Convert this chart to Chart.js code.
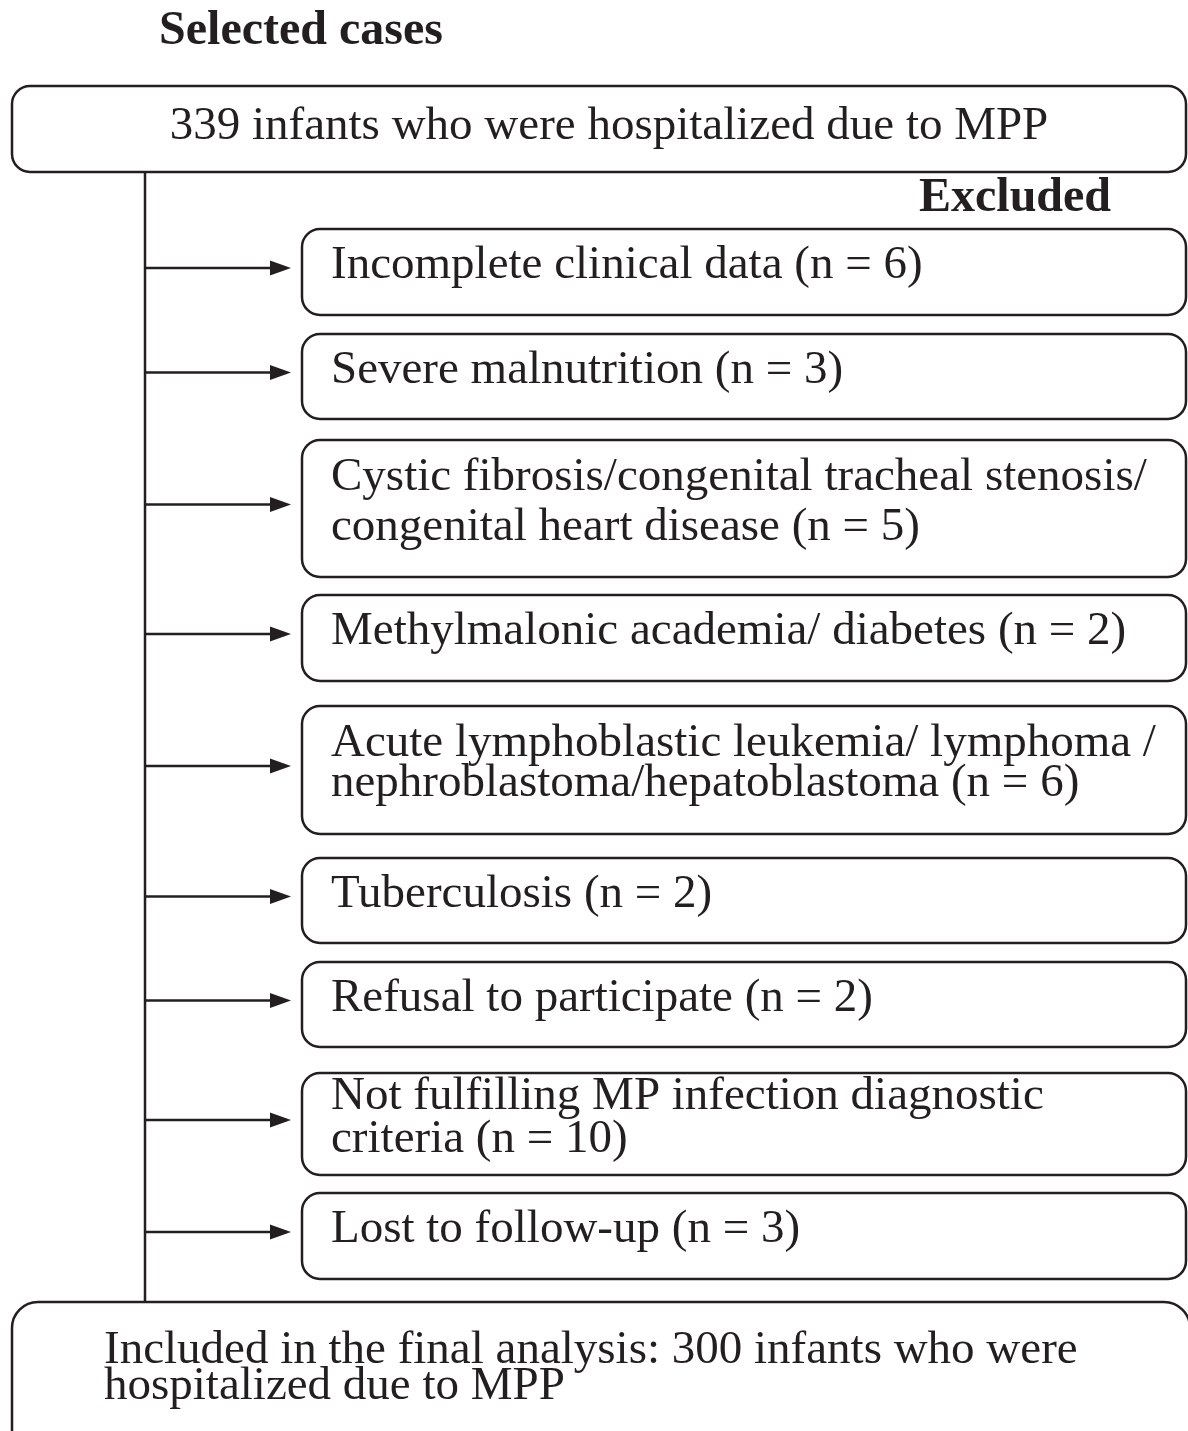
<!DOCTYPE html>
<html>
<head>
<meta charset="utf-8">
<script src="https://cdn.jsdelivr.net/npm/chart.js@4.4.1/dist/chart.umd.min.js"></script>
<style>
  html, body { margin: 0; padding: 0; background: #fff; }
  #wrap { width: 1188px; height: 1431px; }
</style>
</head>
<body>
<div id="wrap"><canvas id="MyChart" width="1188" height="1431"></canvas></div>
<script>
// flowchart content
const titleText = "Selected cases";
const startLabel = "339 infants who were hospitalized due to MPP";
const excludedHeading = "Excluded";
const exclusionReasons = [
    ["Incomplete clinical data"],
    ["Severe malnutrition"],
    ["Cystic fibrosis/congenital tracheal stenosis/", "congenital heart disease"],
    ["Methylmalonic academia/ diabetes"],
    ["Acute lymphoblastic leukemia/ lymphoma /", "nephroblastoma/hepatoblastoma"],
    ["Tuberculosis"],
    ["Refusal to participate"],
    ["Not fulfilling MP infection diagnostic", "criteria"],
    ["Lost to follow-up"]
];
const exclusionCounts = [6, 3, 5, 2, 6, 2, 2, 10, 3];
const finalLabel = ["Included in the final analysis: 300 infants who were", "hospitalized due to MPP"];

// layout (page units, y grows downward)
const boxTop = [229, 334, 440, 595, 706, 858, 962, 1073, 1193];
const boxBottom = [315, 419, 577, 681, 834, 943, 1047, 1175, 1279];
const lineGap = [0, 0, 50, 0, 40, 0, 0, 43, 0];

const ink = "#231f20";
const serif = "'Liberation Serif', 'Times New Roman', serif";
const bodyFont = "47px " + serif;
const boldFont = "bold 48px " + serif;

function roundBox(ctx, x0, y0, x1, y1, r) {
    ctx.beginPath();
    ctx.moveTo(x0 + r, y0);
    ctx.lineTo(x1 - r, y0);
    ctx.arcTo(x1, y0, x1, y0 + r, r);
    ctx.lineTo(x1, y1 - r);
    ctx.arcTo(x1, y1, x1 - r, y1, r);
    ctx.lineTo(x0 + r, y1);
    ctx.arcTo(x0, y1, x0, y1 - r, r);
    ctx.lineTo(x0, y0 + r);
    ctx.arcTo(x0, y0, x0 + r, y0, r);
    ctx.closePath();
    ctx.stroke();
}

const flowPlugin = {
    id: "flow",
    afterDraw(chart) {
        const ctx = chart.ctx;
        const sx = chart.scales.x, sy = chart.scales.y;
        const X = v => sx.getPixelForValue(v);
        const Y = v => sy.getPixelForValue(v);
        ctx.save();
        ctx.strokeStyle = ink;
        ctx.fillStyle = ink;
        ctx.lineWidth = 2.5;

        // title
        ctx.font = boldFont;
        ctx.textAlign = "center";
        ctx.textBaseline = "middle";
        ctx.fillText(titleText, X(301), Y(32));

        // start box
        roundBox(ctx, X(12), Y(86), X(1186), Y(172), 18);
        ctx.font = bodyFont;
        ctx.fillText(startLabel, X(609), Y(127));

        // trunk line
        ctx.beginPath();
        ctx.moveTo(X(145), Y(172));
        ctx.lineTo(X(145), Y(1302));
        ctx.stroke();

        // excluded heading
        ctx.font = boldFont;
        ctx.fillText(excludedHeading, X(1015), Y(199));

        // exclusion boxes
        ctx.textAlign = "left";
        exclusionReasons.forEach((lines, i) => {
            const t = boxTop[i], b = boxBottom[i];
            const mid = (t + b) / 2;
            roundBox(ctx, X(302), Y(t), X(1186), Y(b), 18);
            // arrow
            ctx.beginPath();
            ctx.moveTo(X(145), Y(mid - 4));
            ctx.lineTo(X(272), Y(mid - 4));
            ctx.stroke();
            ctx.beginPath();
            ctx.moveTo(X(291), Y(mid - 4));
            ctx.lineTo(X(270), Y(mid - 11.5));
            ctx.lineTo(X(270), Y(mid + 3.5));
            ctx.closePath();
            ctx.fill();
            // text
            ctx.font = bodyFont;
            const txt = lines.slice();
            txt[txt.length - 1] += " (n = " + exclusionCounts[i] + ")";
            const g = lineGap[i];
            const first = mid - 6 - g * (txt.length - 1) / 2;
            txt.forEach((s, k) => ctx.fillText(s, X(331), Y(first + k * g)));
        });

        // final box
        roundBox(ctx, X(12), Y(1302), X(1190), Y(1460), 26);
        ctx.font = bodyFont;
        ctx.fillText(finalLabel[0], X(104), Y(1351));
        ctx.fillText(finalLabel[1], X(104), Y(1387));
        ctx.restore();
    }
};

const ctx = document.getElementById("MyChart").getContext("2d");

new Chart(ctx, {
    type: "scatter",
    data: { datasets: [{ data: [] }] },
    options: {
        responsive: false,
        animation: false,
        layout: { padding: 0 },
        plugins: { legend: { display: false }, tooltip: { enabled: false } },
        scales: {
            x: { type: "linear", min: 0, max: 1188, display: false },
            y: { type: "linear", min: 0, max: 1431, reverse: true, display: false }
        }
    },
    plugins: [flowPlugin]
});
</script>
</body>
</html>
